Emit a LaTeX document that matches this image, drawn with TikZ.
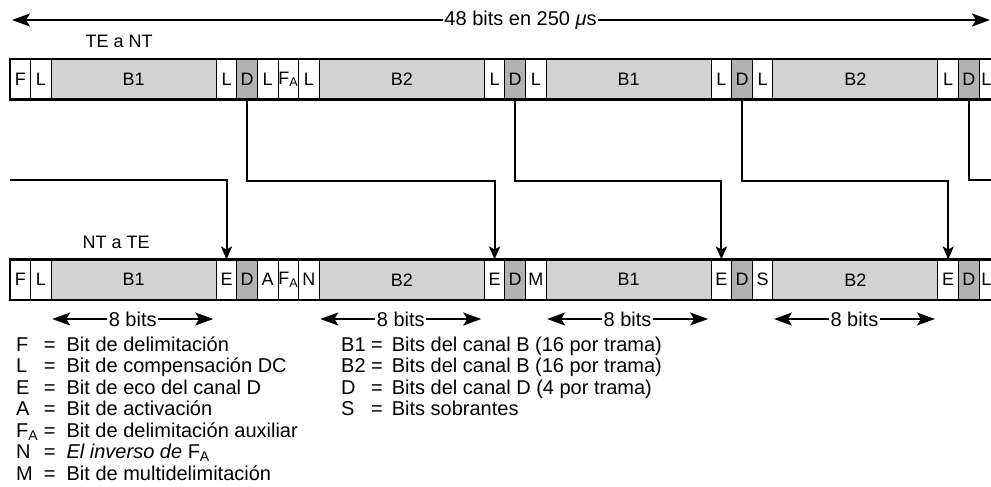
\documentclass[tikz,border=0pt]{standalone}
\usepackage{fontspec}
\setmainfont{Liberation Sans}
\usetikzlibrary{arrows.meta,positioning}

\newcommand{\FA}{F\textsubscript{A}}

\tikzset{
  field/.style={draw, line width=1.1pt, outer sep=0pt, inner sep=0pt,
    minimum height=40.5pt, font=\fontsize{18}{18}\selectfont},
  bitw/.style={field, fill=white},
  bitb/.style={field, fill=gray!35},
  bitd/.style={field, fill=gray!60},
  frame/.style={line width=2.6pt},
  conn/.style={line width=2pt, -{Stealth[length=13pt,width=11pt,inset=3pt]}},
  span/.style={line width=1.9pt,
    {Stealth[length=18pt,width=13pt,inset=4pt]}-{Stealth[length=18pt,width=13pt,inset=4pt]}},
  lbl/.style={font=\fontsize{20}{21.5}\selectfont},
}

\begin{document}
\begin{tikzpicture}[x=1pt, y=-1pt]
    \useasboundingbox (0,0) rectangle (991,487);

    % Total frame length
    \coordinate (spanL) at (12,20);
    \coordinate (spanR) at (990,20);
    \draw[span] (spanL) -- node[pos=0.52, lbl, fill=white, inner sep=1.5pt] (total) {48 bits en 250 \textit{μ}s} (spanR);

    % Frame TE to NT
    \node[anchor=base west, font=\fontsize{18}{18}\selectfont] (lblTE) at (82,48) {TE a NT};
    \foreach \lab/\w/\sty [count=\i, remember=\xe as \xs (initially 10), evaluate=\xe using \xs+\w*20.62]
      in {F/1/bitw, L/1/bitw, B1/8/bitb, L/1/bitw, D/1/bitd, L/1/bitw, \FA/1/bitw, L/1/bitw,
          B2/8/bitb, L/1/bitw, D/1/bitd, L/1/bitw, B1/8/bitb, L/1/bitw, D/1/bitd, L/1/bitw,
          B2/8/bitb, L/1/bitw, D/1/bitd, L/0.7/bitw}
      \node[\sty, minimum width=\w*20.62pt, anchor=north west] (t\i) at (\xs,59) {\lab};
    \draw[frame] (t1.north west) rectangle (t20.south east);

    % Frame NT to TE
    \node[anchor=base west, font=\fontsize{18}{18}\selectfont] (lblNT) at (79,248) {NT a TE};
    \foreach \lab/\w/\sty [count=\i, remember=\xe as \xs (initially 10), evaluate=\xe using \xs+\w*20.62]
      in {F/1/bitw, L/1/bitw, B1/8/bitb, E/1/bitw, D/1/bitd, A/1/bitw, \FA/1/bitw, N/1/bitw,
          B2/8/bitb, E/1/bitw, D/1/bitd, M/1/bitw, B1/8/bitb, E/1/bitw, D/1/bitd, S/1/bitw,
          B2/8/bitb, E/1/bitw, D/1/bitd, L/0.7/bitw}
      \node[\sty, minimum width=\w*20.62pt, anchor=north west] (b\i) at (\xs,259.5) {\lab};
    \draw[frame] (b1.north west) rectangle (b20.south east);

    % D bits echoed back as E bits
    \coordinate (inL) at (10,180);
    \coordinate (outR) at (991,180);
    \draw[conn] (inL) -| (b4.north);
    \draw[conn] (t5.south) -- ++(0,81) -| (b10.north);
    \draw[conn] (t11.south) -- ++(0,81) -| (b14.north);
    \draw[conn] (t15.south) -- ++(0,81) -| (b18.north);
    \draw[line width=2pt] (t19.south) |- (outR);

    % 8 bit spans
    \foreach \j in {3,9,13,17}
      \draw[span] ([shift={(1,19)}]b\j.south west) -- node[lbl, fill=white, inner sep=1.5pt] (eight\j) {8 bits} ([shift={(-3,19)}]b\j.south east);

    % Key
    \node[lbl, anchor=north west, inner sep=0pt] (keyL) at (16,336) {%
      \begin{tabular}{@{}l@{\ =\ \ }l@{}}
      F & Bit de delimitación\\
      L & Bit de compensación DC\\
      E & Bit de eco del canal D\\
      A & Bit de activación\\
      \FA & Bit de delimitación auxiliar\\
      N & \textit{El inverso de} \FA\\
      M & Bit de multidelimitación
      \end{tabular}};
    \node[lbl, anchor=north west, inner sep=0pt] (keyR) at (341,336) {%
      \begin{tabular}{@{}l@{\ =\ \,}l@{}}
      B1 & Bits del canal B (16 por trama)\\
      B2 & Bits del canal B (16 por trama)\\
      D & Bits del canal D (4 por trama)\\
      S & Bits sobrantes
      \end{tabular}};
\end{tikzpicture}
\end{document}
